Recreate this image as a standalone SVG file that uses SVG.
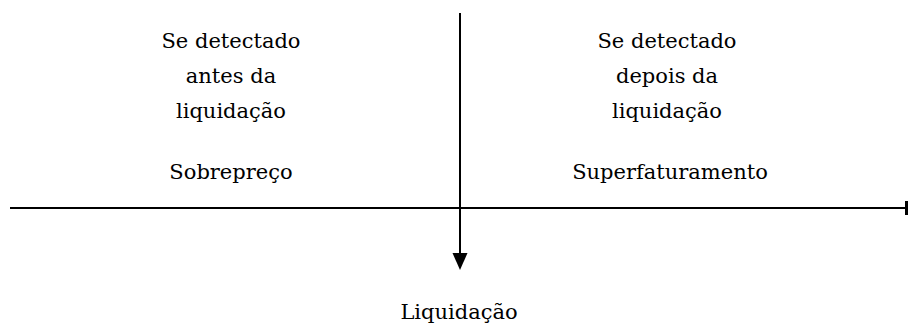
<svg xmlns="http://www.w3.org/2000/svg" width="909" height="329" viewBox="0 0 909 329">
<style>
text{font-family:'DejaVu Serif',serif;font-size:21px;fill:#000;text-anchor:middle}
.ln{stroke:#000;stroke-width:2;fill:none}
</style>
<rect width="909" height="329" fill="#fff"/>
<g id="connectors">
<line class="ln" x1="10" y1="208" x2="906" y2="208"/>
<rect x="905" y="201" width="3" height="14" fill="#000"/>
<line class="ln" x1="460" y1="13" x2="460" y2="256"/>
<polygon points="452.5,253 467.5,253 460,270" fill="#000"/>
</g>
<g id="before">
<text x="231" y="48">Se detectado</text>
<text x="231" y="83">antes da</text>
<text x="231" y="118">liquidação</text>
<text x="231" y="179">Sobrepreço</text>
</g>
<g id="after">
<text x="667" y="48">Se detectado</text>
<text x="667" y="83">depois da</text>
<text x="667" y="118">liquidação</text>
<text x="670" y="179">Superfaturamento</text>
</g>
<g id="liquidacao">
<text x="459" y="319">Liquidação</text>
</g>
</svg>
